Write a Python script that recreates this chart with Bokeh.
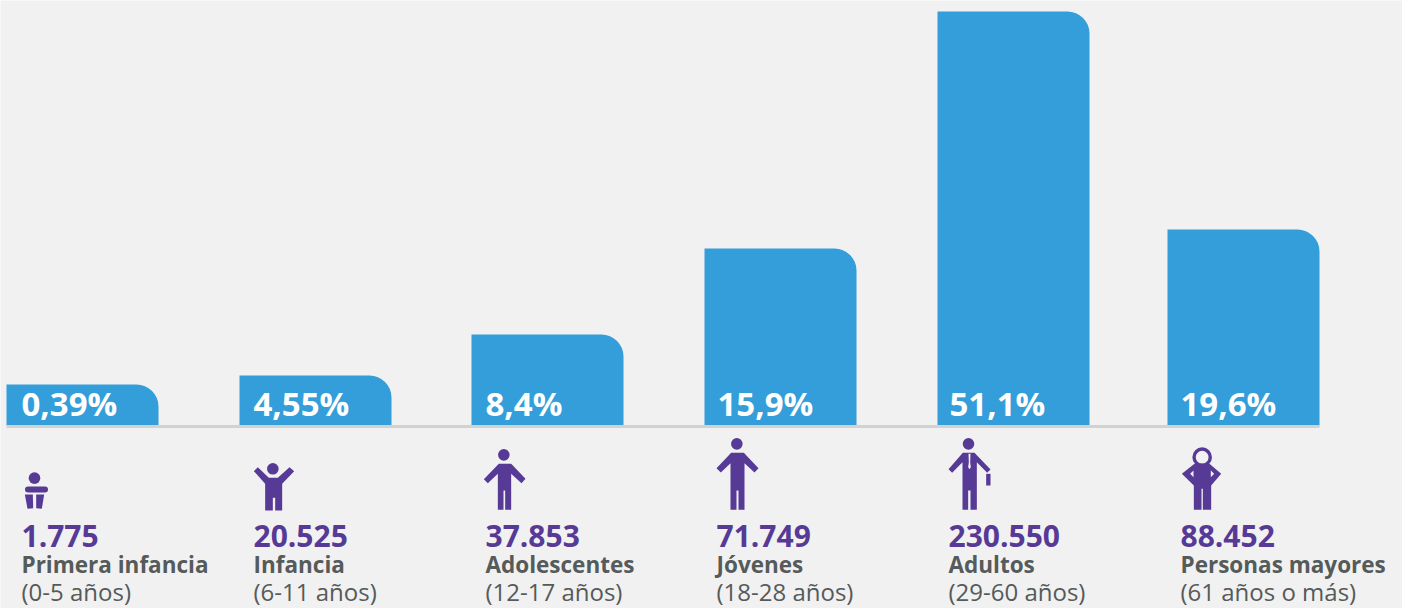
from bokeh.plotting import figure
from bokeh.models import Range1d
from bokeh.core.properties import value
from bokeh.embed import file_html
from bokeh.resources import INLINE

# ---- data ----
percent_labels = ["0,39%", "4,55%", "8,4%", "15,9%", "51,1%", "19,6%"]
count_labels = ["1.775", "20.525", "37.853", "71.749", "230.550", "88.452"]
group_names = ["Primera infancia", "Infancia", "Adolescentes", "Jóvenes", "Adultos", "Personas mayores"]
age_ranges = ["(0-5 años)", "(6-11 años)", "(12-17 años)", "(18-28 años)", "(29-60 años)", "(61 años o más)"]
bar_values = [41, 50, 91, 177, 414, 196]  # drawn bar heights

# ---- layout (reference pixels) ----
W, H = 1402, 608
BASE = 426
bar_left = [7, 240, 472, 705, 938, 1168]
BAR_W = 152
pct_x = [22, 254, 486, 718, 950, 1181]
txt_x = [22, 254, 486, 717, 949, 1181]
ICON_SHIFT = -9
BG, BLUE, PURPLE, GREY = "#f1f1f1", "#339ed9", "#563a96", "#555a5a"
FONT = "Open Sans"

p = figure(width=W, height=H, output_backend="svg", toolbar_location=None,
           x_range=Range1d(1, W + 1), y_range=Range1d(H + 1, 1),
           min_border=0,
           background_fill_color=BG, border_fill_color=BG, outline_line_color=None)
p.axis.visible = False
p.grid.visible = False

# bars
p.quad(left=bar_left, right=[x + BAR_W for x in bar_left],
       top=[BASE - v for v in bar_values], bottom=[BASE] * 6,
       fill_color=BLUE, line_color=None, border_radius=(0, 22, 0, 0))
p.segment(x0=[7], x1=[1320], y0=[BASE + 1], y1=[BASE + 1], line_color="#d2d2d2", line_width=3)

def z(points, ox, oy):
    return [ox + a / 3 for a, _ in points], [oy + ICON_SHIFT + b / 3 for _, b in points]

def shape(points, ox, oy, color=PURPLE):
    xs, ys = z(points, ox, oy)
    p.patch(xs, ys, fill_color=color, line_color=None)

def head(cx, cy, ox, oy, r=5.8):
    p.circle(x=[ox + cx / 3], y=[oy + ICON_SHIFT + cy / 3], radius=r, fill_color=PURPLE, line_color=None)

# icon 1
head(105, 353, 0, 370)
p.segment(x0=[28.5], x1=[45.5], y0=[499 + ICON_SHIFT], y1=[499 + ICON_SHIFT], line_color=PURPLE, line_width=6, line_cap="round")
shape([(76, 402), (100, 402), (101, 443), (84, 445)], 0, 370)
shape([(110, 402), (134, 402), (127, 445), (110, 443)], 0, 370)
# icon 2
head(820, 325, 0, 370)
shape([(763, 332), (775, 320), (808, 352), (835, 352), (870, 320), (884, 332), (848, 370), (848, 450),
       (827, 450), (827, 412), (820, 412), (820, 450), (797, 450), (797, 370)], 0, 370)
# icon 3
head(133, 103, 460, 430)
shape([(118, 130), (155, 130), (198, 175), (186, 188), (155, 160), (155, 268), (137, 268), (137, 210),
       (132, 210), (132, 268), (115, 268), (115, 160), (85, 188), (73, 176)], 460, 430)
# icon 4
head(832, 70, 460, 430)
shape([(815, 97), (853, 97), (897, 143), (885, 156), (855, 128), (855, 268), (837, 268), (837, 210),
       (831, 210), (831, 268), (813, 268), (813, 128), (784, 156), (771, 143)], 460, 430)
# icon 5
head(147, 70, 920, 430)
shape([(130, 97), (165, 97), (213, 147), (203, 157), (172, 125), (172, 268), (153, 268), (153, 210),
       (146, 210), (146, 268), (129, 268), (129, 125), (98, 157), (87, 146)], 920, 430)
shape([(147, 100), (153, 100), (152, 125), (154, 140), (150, 146), (146, 140), (148, 125)], 920, 430, BG)
shape([(200, 160), (213, 160), (213, 195), (200, 195)], 920, 430)
# icon 6
p.annulus(x=[920 + 848 / 3], y=[430 + ICON_SHIFT + 110 / 3], inner_radius=6.4, outer_radius=9.8,
          fill_color=PURPLE, line_color=None)
shape([(825, 130), (870, 130), (905, 160), (875, 195), (875, 268), (850, 268), (850, 205), (846, 205),
       (846, 268), (823, 268), (823, 195), (787, 160)], 920, 430)
shape([(822, 150), (812, 160), (822, 170)], 920, 430, BG)
shape([(874, 150), (884, 160), (874, 170)], 920, 430, BG)

# texts
def texts(xs, y, labels, size, color, style):
    p.text(x=xs, y=[y] * len(xs), text=labels, text_font=value(FONT), text_font_size=size,
           text_font_style=style, text_color=color, text_baseline="middle", text_align="left")

texts(pct_x, 404, percent_labels, "33px", "#ffffff", "bold")
texts(txt_x, 536, count_labels, "30px", PURPLE, "bold")
texts(txt_x, 565, group_names, "22.5px", GREY, "bold")
texts(txt_x, 592, age_ranges, "24px", GREY, "normal")

open("out.html", "w").write(file_html(p, INLINE))
